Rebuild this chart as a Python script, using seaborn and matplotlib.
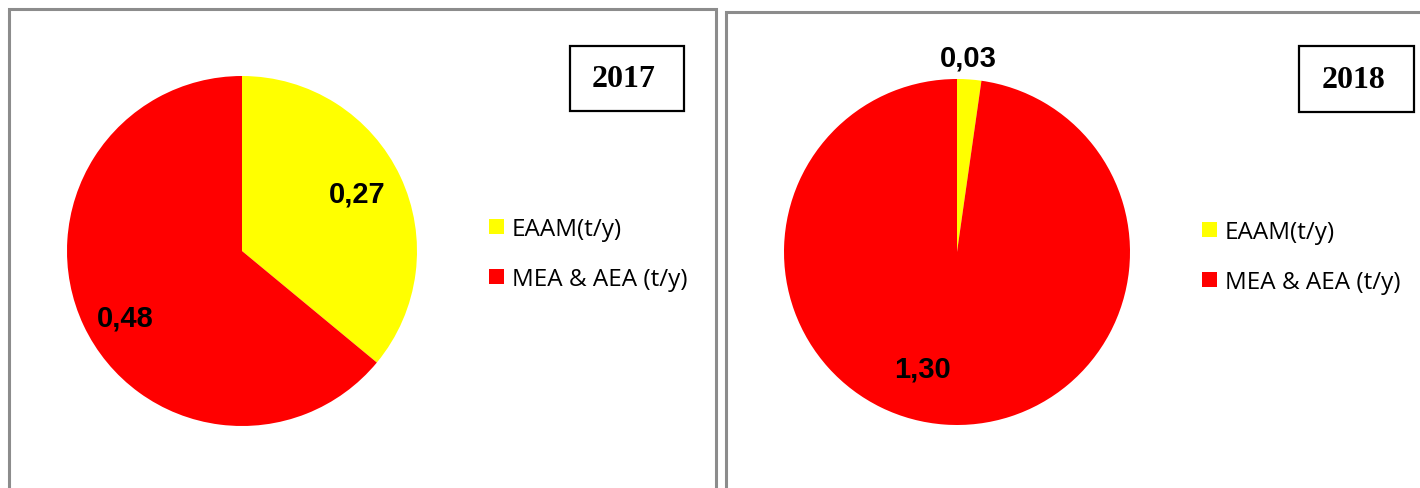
import matplotlib
matplotlib.use("Agg")
import matplotlib.pyplot as plt
import seaborn as sns
from matplotlib.patches import Rectangle
import numpy as np

sns.set_theme(style="white")
plt.rcParams['font.family'] = ['Liberation Sans', 'DejaVu Sans']
plt.rcParams['text.color'] = 'black'

# ---- data ----
categories = ["EAAM(t/y)", "MEA & AEA (t/y)"]
years = ["2017", "2018"]
values_2017 = [0.27, 0.48]
values_2018 = [0.03, 1.30]
colors = ["#FFFF00", "#FF0000"]

W, H = 1420, 489
fig = plt.figure(figsize=(W / 100, H / 100), dpi=100)
fig.patch.set_facecolor("white")

def fx(x): return x / W
def fy(y): return 1 - y / H

# panel borders
for (x0, y0, x1) in [(9, 10, 716), (726, 13, 1422)]:
    fig.patches.append(Rectangle((fx(x0), fy(H + 20)), fx(x1 - x0), (H + 20 - y0) / H,
                                 transform=fig.transFigure, fill=False,
                                 edgecolor="#8c8c8c", linewidth=2.2, clip_on=False))

def fmt(v):
    return f"{v:.2f}".replace(".", ",")

panels = [
    dict(vals=values_2017, year=years[0], cx=242, cy=252, r=175,
         box=(570, 47, 684, 112), leg=(489, 255),
         lab_r=[0.738, 0.765], lab_da=[-2, -3.8]),
    dict(vals=values_2018, year=years[1], cx=957, cy=253, r=173,
         box=(1299, 47, 1414, 113), leg=(1202, 258),
         lab_r=[1.135, 0.695], lab_da=[-0.9, 12.8]),
]

for p in panels:
    cx, cy, r = p["cx"], p["cy"], p["r"]
    ax = fig.add_axes([fx(cx - r), fy(cy + r), fx(2 * r), 2 * r / H])
    wedges, _ = ax.pie(p["vals"], colors=colors, startangle=90, counterclock=False,
                       radius=1, wedgeprops=dict(linewidth=0))
    ax.set_xlim(-1, 1)
    ax.set_ylim(-1, 1)
    ax.set_aspect("equal")
    ax.axis("off")
    # value labels
    total = sum(p["vals"])
    start = 0.0
    for i, v in enumerate(p["vals"]):
        mid = start + v / total * 360 / 2 + p["lab_da"][i]
        start += v / total * 360
        ang = np.deg2rad(mid)
        rr = p["lab_r"][i]
        ax.text(rr * np.sin(ang), rr * np.cos(ang) - 0.011, fmt(v), ha="center", va="center",
                fontsize=21, fontweight="bold", color="black", clip_on=False)
    # legend
    lx, ly = p["leg"]
    leg = fig.legend(wedges, categories, loc="center left",
                     bbox_to_anchor=(fx(lx), fy(ly)), frameon=False,
                     prop=dict(family=["Open Sans", "DejaVu Sans"], size=17.5),
                     handlelength=0.62, handleheight=0.58, handletextpad=0.33,
                     labelspacing=1.07, borderaxespad=0, borderpad=0)
    for t in leg.get_texts():
        t.set_color("black")
    # year box
    x0, y0, x1, y1 = p["box"]
    fig.patches.append(Rectangle((fx(x0), fy(y1)), fx(x1 - x0), (y1 - y0) / H,
                                 transform=fig.transFigure, fill=False,
                                 edgecolor="black", linewidth=1.6))
    fig.text(fx((x0 + x1) / 2 - 3), fy((y0 + y1) / 2), p["year"], ha="center", va="center",
             fontsize=23, fontweight="bold", color="black",
             family=["Liberation Serif", "DejaVu Serif"])

fig.savefig("out.png", dpi=100, facecolor="white")
